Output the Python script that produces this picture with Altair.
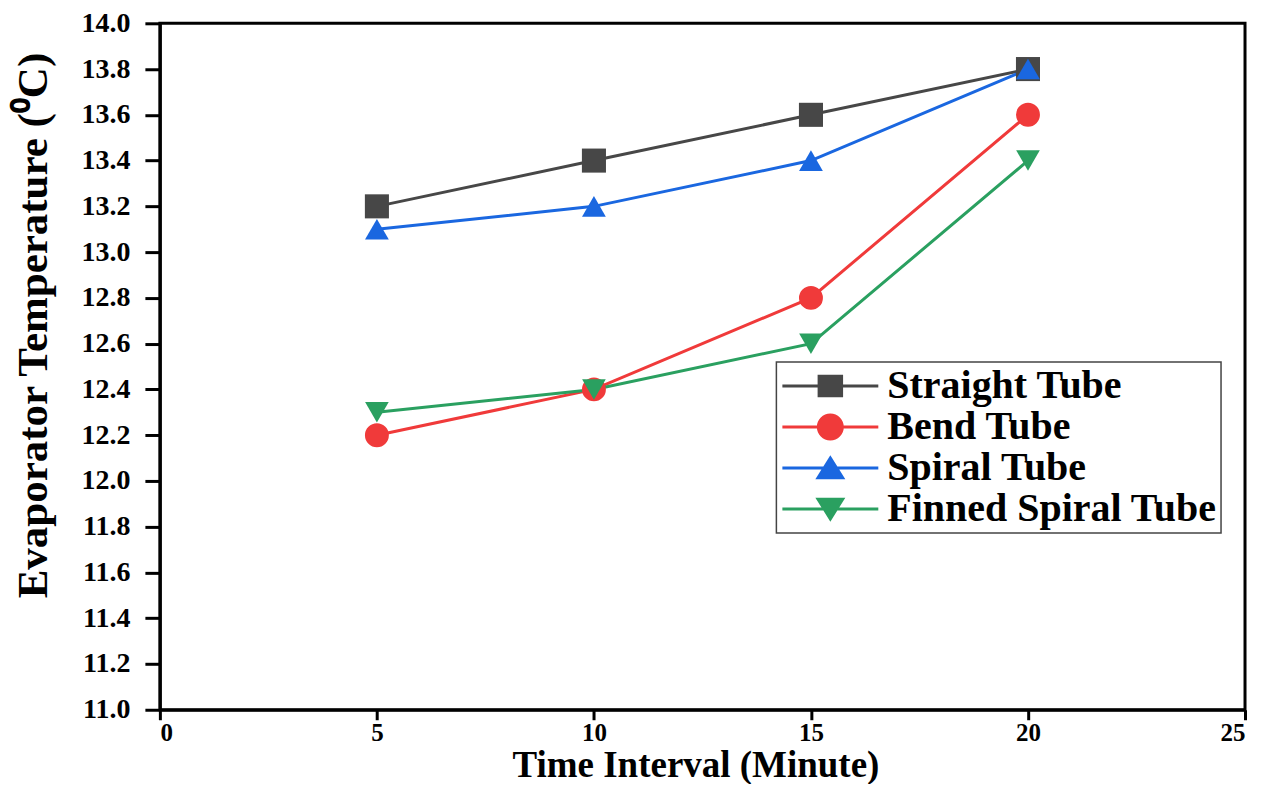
import altair as alt
import pandas as pd

times = [5, 10, 15, 20]
series_names = ["Straight Tube", "Bend Tube", "Spiral Tube", "Finned Spiral Tube"]
straight = [13.2, 13.4, 13.6, 13.8]
bend = [12.2, 12.4, 12.8, 13.6]
spiral = [13.1, 13.2, 13.4, 13.8]
finned = [12.3, 12.4, 12.6, 13.4]

colors = ["#474747", "#f03a3a", "#1a67e0", "#2aa060"]
shapes = ["square", "circle", "triangle-up", "triangle-down"]
sizes = [580, 560, 1000, 1000]

x_ticks = [0, 5, 10, 15, 20, 25]
y_ticks = [11.0, 11.2, 11.4, 11.6, 11.8, 12.0, 12.2, 12.4, 12.6, 12.8,
           13.0, 13.2, 13.4, 13.6, 13.8, 14.0]

# legend symbols: a line with the marker on it (custom paths, unit coords)
LINE = "M-1.2,-0.1H5.2V0.1H-1.2Z"
legend_paths = [
    LINE + "M1.15,-0.75H2.85V0.75H1.15Z",
    LINE + "M1.1,0A0.9,0.9 0 1,1 2.9,0A0.9,0.9 0 1,1 1.1,0Z",
    LINE + "M2,-0.85L3,0.75H1Z",
    LINE + "M2,0.85L1,-0.75H3Z",
]

rows = []
for name, vals in zip(series_names, [straight, bend, spiral, finned]):
    for t, v in zip(times, vals):
        rows.append({"time": t, "temp": v, "series": name})
df = pd.DataFrame(rows)

FONT = "Liberation Serif"

x_enc = alt.X(
    "time:Q",
    scale=alt.Scale(domain=[0, 25], nice=False, zero=False),
    axis=alt.Axis(
        values=x_ticks, format="d", title="Time Interval (Minute)",
        labelFontSize=25, tickSize=10, labelPadding=1,
        titleFontSize=37, titleX=536, titleY=67, titleBaseline="alphabetic",
        titleAlign="center",
    ),
)
y_enc = alt.Y(
    "temp:Q",
    scale=alt.Scale(domain=[11, 14], nice=False, zero=False),
    axis=alt.Axis(
        values=y_ticks, format=".1f", title="Evaporator Temperature (⁰C)",
        labelFontSize=28, tickSize=15, labelPadding=15,
        titleFontSize=43, titleX=-126, titleY=302, titleBaseline="middle",
        titleAlign="center",
    ),
)

lines = alt.Chart(df).mark_line(strokeWidth=3).encode(
    x=x_enc,
    y=y_enc,
    color=alt.Color("series:N", scale=alt.Scale(domain=series_names, range=colors), legend=None),
    detail="series:N",
)

points = alt.Chart(df).mark_point(filled=True, opacity=1).encode(
    x=alt.X("time:Q"),
    y=alt.Y("temp:Q"),
    color=alt.Color("series:N", scale=alt.Scale(domain=series_names, range=colors), legend=None),
    shape=alt.Shape("series:N", scale=alt.Scale(domain=series_names, range=shapes), legend=None),
    size=alt.Size("series:O", scale=alt.Scale(domain=series_names, range=sizes), legend=None),
)

leg = alt.Legend(title=None, orient="none", legendX=617, legendY=339)
legend_layer = alt.Chart(df).transform_filter("false").mark_point(
    filled=True, opacity=1, size=900
).encode(
    x=alt.X("time:Q"),
    y=alt.Y("temp:Q"),
    color=alt.Color("series:N", scale=alt.Scale(domain=series_names, range=colors), legend=leg),
    shape=alt.Shape("series:N", scale=alt.Scale(domain=series_names, range=legend_paths), legend=leg),
)

chart = alt.layer(lines, points, legend_layer).resolve_scale(
    color="independent", shape="independent"
).properties(
    width=1086,
    height=687,
    autosize=alt.AutoSizeParams(type="none"),
    padding={"left": 152, "top": 15, "right": 20, "bottom": 74},
).configure_view(
    stroke="black", strokeWidth=3
).configure_axis(
    grid=False,
    labelFont=FONT, labelFontWeight="bold", labelColor="black",
    titleFont=FONT, titleFontWeight="bold", titleColor="black",
    domainColor="black", domainWidth=3, tickColor="black", tickWidth=3,
).configure_legend(
    labelFont=FONT, labelFontWeight="bold", labelColor="black",
    labelFontSize=40, labelLimit=600, labelOffset=67,
    symbolSize=900, rowPadding=1, padding=4,
    strokeColor="#444444", fillColor="white", strokeWidth=1.5,
)

chart.save("out.html", embed_options={"renderer": "svg", "actions": False})
